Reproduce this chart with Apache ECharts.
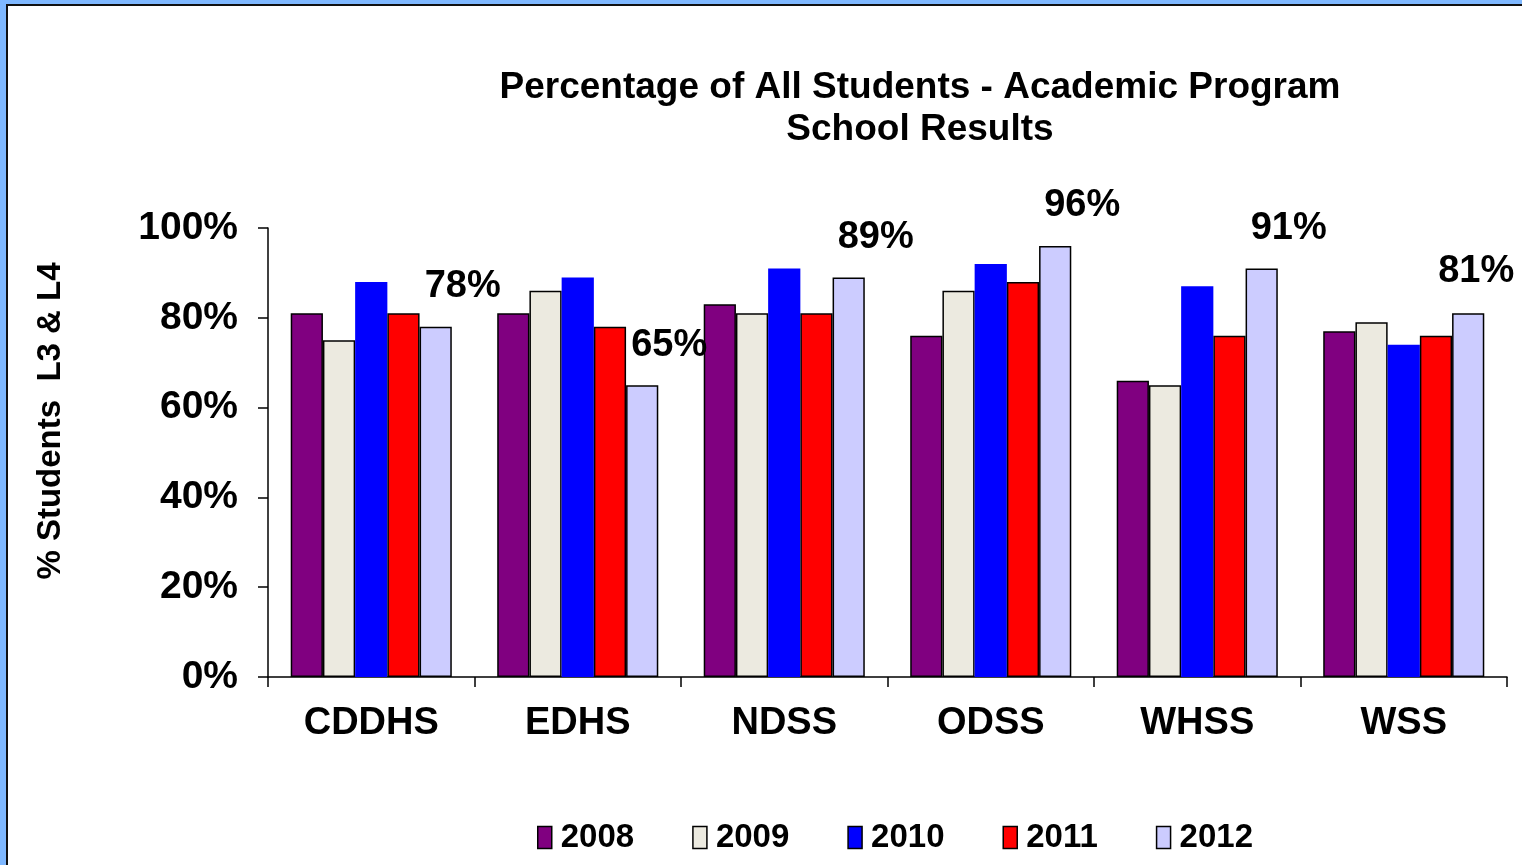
<!DOCTYPE html>
<html>
<head>
<meta charset="utf-8">
<script src="https://cdn.jsdelivr.net/npm/echarts@6/dist/echarts.min.js"></script>
<style>
  html, body { margin: 0; padding: 0; background: #7fb8ff; overflow: hidden; }
  #frame {
    position: absolute; left: 6px; top: 4px; right: 0; bottom: 0;
    background: #fff; border-left: 2px solid #111; border-top: 2px solid #111;
  }
  #chart { position: absolute; left: -8px; top: -6px; width: 1522px; height: 865px; }
</style>
</head>
<body>
<div id="frame"><div id="chart"></div></div>
<script>
// schools and years
const schools = ['CDDHS', 'EDHS', 'NDSS', 'ODSS', 'WHSS', 'WSS']
const years = ['2008', '2009', '2010', '2011', '2012']

// % students at L3 & L4, one array per year
const y2008 = [81, 81, 83, 76, 66, 77]
const y2009 = [75, 86, 81, 86, 65, 79]
const y2010 = [88, 89, 91, 92, 87, 74]
const y2011 = [81, 78, 81, 88, 76, 76]
const y2012 = [78, 65, 89, 96, 91, 81]

const yTicks = [0, 20, 40, 60, 80, 100]

const colors = ['#800080', '#ECEAE0', '#0000FF', '#FF0000', '#CCCCFF']
const font = 'Arial, "Liberation Sans", sans-serif'

const chart = echarts.init(document.getElementById('chart'))

const seriesData = [y2008, y2009, y2010, y2011, y2012]
const series = years.map((yr, k) => {
  const isLast = k === years.length - 1
  return {
    name: yr,
    type: 'bar',
    barGap: '0%',
    barCategoryGap: '22%',
    itemStyle: {
      color: colors[k],
      borderColor: k === 2 ? 'transparent' : '#000',
      borderWidth: k === 2 ? 0 : 1.5
    },
    data: seriesData[k].map((v, i) => {
      // the last label is pushed less to the right so it stays inside
      if (isLast && i === schools.length - 1) {
        return { value: v, label: { offset: [8, -18] } }
      }
      return v
    }),
    label: {
      show: isLast,
      position: 'top',
      offset: [27, -16],
      formatter: '{c}%',
      color: '#000',
      fontFamily: font,
      fontWeight: 'bold',
      fontSize: 38
    }
  }
})

chart.setOption({
  animation: false,
  color: colors,
  title: {
    text: 'Percentage of All Students - Academic Program\nSchool Results',
    left: 915,
    top: 62,
    textAlign: 'center',
    textStyle: {
      fontFamily: font,
      fontWeight: 'bold',
      fontSize: 37,
      lineHeight: 42,
      color: '#000'
    }
  },
  graphic: [{
    type: 'text',
    x: 51,
    y: 421,
    rotation: Math.PI / 2,
    style: {
      text: '% Students  L3 & L4',
      fill: '#000',
      font: 'bold 33px Arial, "Liberation Sans", sans-serif',
      textAlign: 'center',
      textVerticalAlign: 'middle'
    }
  }],
  legend: {
    left: 537,
    top: 821,
    padding: 0,
    itemWidth: 14,
    itemHeight: 22,
    itemGap: 58,
    icon: 'rect',
    textStyle: {
      fontFamily: font,
      fontWeight: 'bold',
      fontSize: 33,
      color: '#000',
      padding: [0, 0, 0, 4]
    },
    itemStyle: { borderColor: '#000', borderWidth: 1.5 },
    data: years
  },
  grid: {
    left: 268,
    right: 15,
    top: 228,
    bottom: 188
  },
  xAxis: {
    type: 'category',
    data: schools,
    axisLine: { lineStyle: { color: '#000', width: 1.5 } },
    axisTick: { show: true, length: 10, lineStyle: { color: '#000', width: 1.5 } },
    axisLabel: {
      margin: 28,
      color: '#000',
      fontFamily: font,
      fontWeight: 'bold',
      fontSize: 38
    }
  },
  yAxis: {
    type: 'value',
    min: yTicks[0],
    max: yTicks[yTicks.length - 1],
    interval: 20,
    axisLine: { show: true, lineStyle: { color: '#000', width: 1.5 } },
    axisTick: { show: true, length: 10, lineStyle: { color: '#000', width: 1.5 } },
    splitLine: { show: false },
    axisLabel: {
      margin: 30,
      color: '#000',
      fontFamily: font,
      fontWeight: 'bold',
      fontSize: 39,
      formatter: '{value}%'
    }
  },
  series: series
})
</script>
</body>
</html>
